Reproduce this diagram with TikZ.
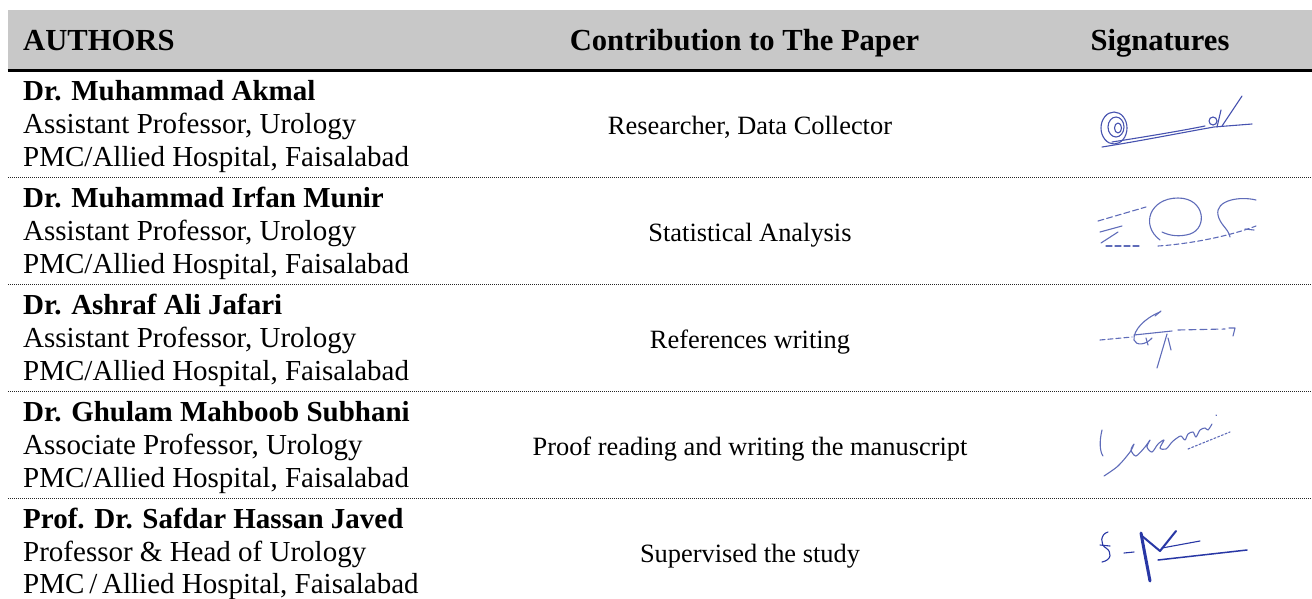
\documentclass[tikz,border=0pt]{standalone}
\usepackage{fontspec}
\setmainfont{Liberation Serif}
\definecolor{headgray}{RGB}{200,200,200}
\definecolor{sigA}{RGB}{70,82,175}
\definecolor{sigB}{RGB}{95,108,185}
\definecolor{sigC}{RGB}{40,55,165}
\tikzset{
  namet/.style={anchor=base west, inner sep=0pt, font=\fontsize{29}{33}\selectfont\bfseries},
  rolet/.style={anchor=base west, inner sep=0pt, font=\fontsize{29}{33}\selectfont},
  contrib/.style={anchor=base, inner sep=0pt, font=\fontsize{26.4}{30}\selectfont},
  headt/.style={anchor=base, inner sep=0pt, font=\fontsize{30.6}{34}\selectfont\bfseries},
  rowsep/.style={line width=0.9pt, dash pattern=on 1pt off 1pt, black!85},
  sig/.style={line width=1.1pt, line cap=round, line join=round},
}
\begin{document}
\begin{tikzpicture}[x=1pt,y=-1pt]
\useasboundingbox (0,0) rectangle (1312,598);
% header
\fill[headgray] (7.5,10) rectangle (1312,68.5);
\draw[line width=3pt] (7.5,70) -- (1312,70);
\node[headt, anchor=base west] (hA) at (23,50) {AUTHORS};
\node[headt] (hC) at (744.5,50) {Contribution to The Paper};
\node[headt] (hS) at (1160,50) {Signatures};
% row separators
\foreach \yy in {177.3,284.3,391.3,498.3} {\draw[rowsep] (8,\yy) -- (1312,\yy);}
% row 1
\node[namet] (n1) at (23,100.7) {Dr. Muhammad Akmal};
\node[rolet] (r1) at (23,133.3) {Assistant Professor, Urology};
\node[rolet] (p1) at (23,166) {PMC/Allied Hospital, Faisalabad};
\node[contrib] (c1) at (750,134.3) {Researcher, Data Collector};
% row 2
\node[namet] (n2) at (23,207.7) {Dr. Muhammad Irfan Munir};
\node[rolet] (r2) at (23,240.3) {Assistant Professor, Urology};
\node[rolet] (p2) at (23,273) {PMC/Allied Hospital, Faisalabad};
\node[contrib] (c2) at (750,241.3) {Statistical Analysis};
% row 3
\node[namet] (n3) at (23,314.7) {Dr. Ashraf Ali Jafari};
\node[rolet] (r3) at (23,347.3) {Assistant Professor, Urology};
\node[rolet] (p3) at (23,380) {PMC/Allied Hospital, Faisalabad};
\node[contrib] (c3) at (750,348.3) {References writing};
% row 4
\node[namet] (n4) at (23,421.7) {Dr. Ghulam Mahboob Subhani};
\node[rolet] (r4) at (23,454.3) {Associate Professor, Urology};
\node[rolet] (p4) at (23,487) {PMC/Allied Hospital, Faisalabad};
\node[contrib] (c4) at (750,455.3) {Proof reading and writing the manuscript};
% row 5
\node[namet] (n5) at (23,528.5) {Prof. Dr. Safdar Hassan Javed};
\node[rolet] (r5) at (23,561.2) {Professor \& Head of Urology};
\node[rolet] (p5) at (23,593.5) {PMC\,/\,Allied Hospital, Faisalabad};
\node[contrib] (c5) at (750,562.3) {Supervised the study};
% signature 1
\begin{scope}[draw=sigA]
\draw[sig] (1114,128) ellipse [x radius=13, y radius=16];
\draw[sig] (1116,127) ellipse [x radius=8, y radius=10];
\draw[sig] (1118,128) ellipse [x radius=3.5, y radius=5];
\draw[sig] (1102,147) .. controls (1140,141) and (1180,133) .. (1214,127) -- (1252,124);
\draw[sig] (1112,142) .. controls (1150,136) and (1180,131) .. (1205,126);
\draw[sig] (1213,121) circle [radius=4];
\draw[sig] (1217,127) -- (1221,110);
\draw[sig] (1222,126) -- (1242,96);
\end{scope}
% signature 2
\begin{scope}[draw=sigB]
\draw[sig, dash pattern=on 6pt off 3pt] (1098,221) -- (1146,207);
\draw[sig] (1100,232) -- (1122,226);
\draw[sig] (1101,243) -- (1118,232);
\draw[sig, dash pattern=on 6pt off 3pt] (1106,246) -- (1140,246);
\draw[sig] (1160,240) .. controls (1140,225) and (1150,198) .. (1178,198) .. controls (1205,198) and (1208,228) .. (1190,234) .. controls (1180,237) and (1170,236) .. (1162,232);
\draw[sig] (1256,200) .. controls (1240,196) and (1215,200) .. (1218,215) .. controls (1220,225) and (1228,228) .. (1230,237);
\draw[sig, dash pattern=on 5pt off 3pt] (1158,246) .. controls (1190,244) and (1230,236) .. (1256,226);
\draw[sig] (1245,229) -- (1254,230);
\end{scope}
% signature 3
\begin{scope}[draw=sigB]
\draw[sig, dash pattern=on 5pt off 3pt] (1100,340) -- (1132,337);
\draw[sig] (1160,312) .. controls (1145,318) and (1133,330) .. (1134,340) .. controls (1136,346) and (1146,345) .. (1152,338);
\draw[sig] (1134,335) -- (1172,331);
\draw[sig] (1167,334) -- (1157,368);
\draw[sig] (1168,338) -- (1171,350);
\draw[sig] (1146,338) -- (1148,345);
\draw[sig, dash pattern=on 7pt off 4pt] (1178,330) -- (1225,329);
\draw[sig] (1229,328) -- (1235,328) -- (1233,336);
\draw[sig] (1155,316) -- (1161,311);
\end{scope}
% signature 4
\begin{scope}[draw=sigB]
\draw[sig] (1102,430) .. controls (1099,442) and (1100,452) .. (1103,456);
\draw[sig] plot[smooth] coordinates {(1104,476) (1118,466) (1130,452) (1134,444) (1131,450) (1136,456) (1145,447) (1150,440) (1147,447) (1152,452) (1158,444) (1164,440) (1160,448) (1166,449) (1172,442) (1177,438) (1181,436) (1185,440) (1188,434) (1193,432) (1196,437) (1200,430) (1205,428) (1208,430) (1212,424)};
\draw[sig] (1216,415) -- (1216.5,415.5);
\draw[sig, dash pattern=on 2pt off 2pt] (1188,449) -- (1230,432);
\end{scope}
% signature 5
\begin{scope}[draw=sigC]
\draw[sig] (1108,532) .. controls (1100,534) and (1100,545) .. (1106,548) .. controls (1112,552) and (1112,560) .. (1102,562);
\draw[sig] (1100,545) -- (1110,546);
\draw[sig] (1124,553) -- (1134,552);
\draw[sig, line width=3pt] (1141,533) .. controls (1144,550) and (1147,565) .. (1150,581);
\draw[sig, line width=2pt] (1142,536) -- (1160,551) -- (1176,531);
\draw[sig] (1162,548) -- (1200,541);
\draw[sig, line width=1.5pt] (1158,560) -- (1247,550);
\end{scope}
\end{tikzpicture}
\end{document}
